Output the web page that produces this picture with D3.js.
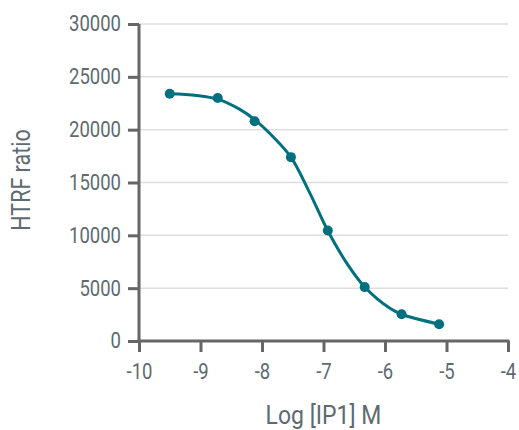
<!DOCTYPE html>
<html>
<head>
<meta charset="utf-8">
<script src="https://cdn.jsdelivr.net/npm/d3@7"></script>
<style>
  html, body { margin: 0; padding: 0; background: #fff; }
  text { font-family: Roboto, "Noto Sans", sans-serif; font-weight: 400; }
</style>
</head>
<body>
<svg id="chart" width="519" height="430"></svg>
<script>
// Data
const logConc = [-9.5, -8.72, -8.12, -7.53, -6.93, -6.33, -5.73, -5.12];
const htrf    = [23400, 23000, 20800, 17400, 10450, 5100, 2530, 1580];
// Fitted curve
const curveX = [-9.51, -9.06, -8.72, -8.36, -8.12, -7.82, -7.53, -7.22, -6.93, -6.62, -6.33, -5.92, -5.73, -5.12];
const curveY = [23400, 23240, 22890, 21920, 20950, 19330, 17400, 13970, 10430, 7350, 5110, 3090, 2530, 1580];
const xTicks = [-10, -9, -8, -7, -6, -5, -4];
const yTicks = [0, 5000, 10000, 15000, 20000, 25000, 30000];

const svg = d3.select("#chart");
const mLeft = 139, mRight = 508, mTop = 24, mBottom = 341;
const x = d3.scaleLinear().domain([-10, -4]).range([mLeft, mRight]);
const y = d3.scaleLinear().domain([0, 30000]).range([mBottom, mTop]);

const teal = "#00707f";
const axisCol = "#666666";
const textCol = "#5d6a70";
const sx = 0.86;

// gridlines
svg.append("g").selectAll("line").data(yTicks.filter(d => d > 0)).join("line")
  .attr("x1", mLeft).attr("x2", mRight)
  .attr("y1", d => y(d)).attr("y2", d => y(d))
  .attr("stroke", "#dedede").attr("stroke-width", 1.5);

// y axis
const yAxis = svg.append("g").attr("transform", `translate(${mLeft},0)`)
  .call(d3.axisLeft(y).tickValues(yTicks).tickSize(11).tickSizeOuter(0).tickPadding(10).tickFormat(d => String(d)));
yAxis.select(".domain").attr("stroke", axisCol).attr("stroke-width", 3)
  .attr("d", `M0,${mBottom}V${mTop}`);
yAxis.selectAll(".tick line").attr("stroke", axisCol).attr("stroke-width", 3);
yAxis.selectAll(".tick text").attr("fill", textCol).attr("font-size", 21.5)
  .attr("transform", `scale(${sx},1)`);

// x axis
const xAxis = svg.append("g").attr("transform", `translate(0,${mBottom})`)
  .call(d3.axisBottom(x).tickValues(xTicks).tickSize(11).tickSizeOuter(0).tickPadding(12).tickFormat(d => String(d)));
xAxis.select(".domain").attr("stroke", axisCol).attr("stroke-width", 3)
  .attr("d", `M${mLeft - 1.5},0H${mRight + 1.5}`);
xAxis.selectAll(".tick line").attr("stroke", axisCol).attr("stroke-width", 3);
xAxis.selectAll(".tick text").attr("fill", textCol).attr("font-size", 21.5)
  .attr("transform", `scale(${sx},1)`);

// curve
const curvePts = curveX.map((v, i) => [v, curveY[i]]);
svg.append("path").datum(curvePts)
  .attr("fill", "none").attr("stroke", teal).attr("stroke-width", 3)
  .attr("d", d3.line().x(d => x(d[0])).y(d => y(d[1])).curve(d3.curveCatmullRom.alpha(0.5)));

// points
svg.append("g").selectAll("circle").data(logConc.map((v, i) => [v, htrf[i]])).join("circle")
  .attr("cx", d => x(d[0])).attr("cy", d => y(d[1])).attr("r", 5)
  .attr("fill", teal);

// axis titles
const tsx = 0.92;
const cx = (mLeft + mRight) / 2;
svg.append("text").attr("x", cx).attr("y", 424)
  .attr("text-anchor", "middle").attr("fill", textCol).attr("font-size", 25)
  .attr("transform", `translate(${cx * (1 - tsx)},0) scale(${tsx},1)`)
  .text("Log [IP1] M");
svg.append("text")
  .attr("transform", `translate(30,180) rotate(-90) scale(${sx},1)`)
  .attr("text-anchor", "middle").attr("fill", textCol).attr("font-size", 25)
  .text("HTRF ratio");
</script>
</body>
</html>
